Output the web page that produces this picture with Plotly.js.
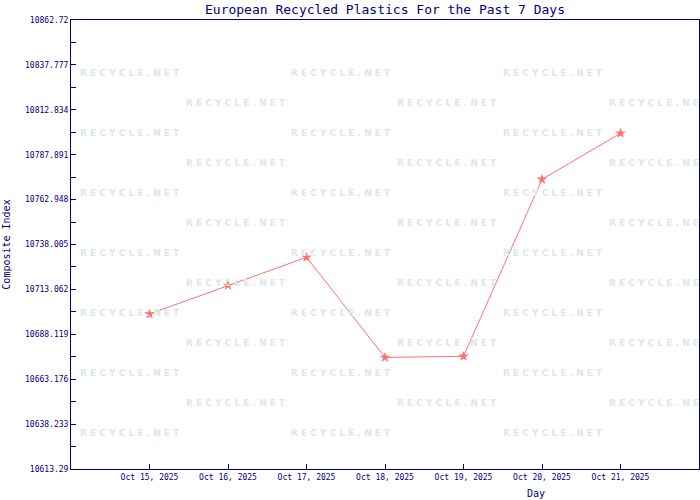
<!DOCTYPE html>
<html><head><meta charset="utf-8">
<script src="https://cdn.plot.ly/plotly-3.0.1.min.js"></script>
<style>html,body{margin:0;padding:0;background:#fff}</style>
</head><body>
<div id="chart" style="width:700px;height:500px"></div>
<script>
const days = ['2025-10-15','2025-10-16','2025-10-17','2025-10-18','2025-10-19','2025-10-20','2025-10-21'];
const values = [10699.4, 10715.3, 10730.9, 10675.3, 10675.9, 10774.2, 10799.8];
const yTickVals = [10613.29, 10638.233, 10663.176, 10688.119, 10713.062, 10738.005, 10762.948, 10787.891, 10812.834, 10837.777, 10862.72];
const yTickText = ['10613.29','10638.233','10663.176','10688.119','10713.062','10738.005','10762.948','10787.891','10812.834','10837.777','10862.72'];
const xRange = ['2025-10-14','2025-10-22'];

const navy = '#000080';
const mono = 'DejaVu Sans Mono, monospace';

// watermark annotations (decoration)
const W = 700, H = 500, L = 71, R = 1, T = 20, B = 31;
const pw = W - L - R, ph = H - T - B;
const annotations = [];
const wm = 'RECYCLE.NET'.split('').join(' ');
for (let r = 0; r < 13; r++) {
  const py = 73 + r * 30;
  const cols = (r % 2 === 0) ? [130, 341, 553] : [236, 447, 659];
  cols.forEach(px => {
    annotations.push({
      text: '<b>' + wm + '</b>', xref: 'paper', yref: 'paper',
      x: (px - L) / pw, y: 1 - (py - T) / ph, xanchor: 'center', yanchor: 'middle',
      showarrow: false, font: {family: 'DejaVu Sans, sans-serif', size: 9, color: '#dbe8e8'}
    });
  });
}
annotations.push({
  text: 'Day', xref: 'paper', yref: 'paper', x: (536 - L) / pw, y: 1 - (494 - T) / ph,
  xanchor: 'center', yanchor: 'middle', showarrow: false,
  font: {family: mono, size: 10, color: navy}
});

const trace = {
  x: days, y: values, type: 'scatter', mode: 'lines+markers',
  line: {color: '#ff7070', width: 1},
  marker: {symbol: 'star', size: 8, color: '#ff7070'},
  cliponaxis: false
};

const layout = {
  width: W, height: H,
  margin: {l: L, r: R, t: T, b: B, pad: 0},
  paper_bgcolor: '#ffffff', plot_bgcolor: '#ffffff',
  showlegend: false,
  title: {text: 'European Recycled Plastics For the Past 7 Days',
    font: {family: mono, size: 13, color: navy},
    x: 0.5, xref: 'paper', y: 1 - 9 / H, yref: 'container', yanchor: 'middle'},
  xaxis: {
    type: 'date', range: xRange, tickvals: days, tickformat: '%b %d, %Y',
    showgrid: false, zeroline: false, showline: true, linecolor: navy, linewidth: 1, mirror: true,
    ticks: 'inside', ticklen: 5, tickcolor: navy,
    tickfont: {family: mono, size: 8, color: navy}, fixedrange: true
  },
  yaxis: {
    range: [yTickVals[0], yTickVals[yTickVals.length - 1]],
    tickvals: yTickVals, ticktext: yTickText,
    showgrid: false, zeroline: false, showline: true, linecolor: navy, linewidth: 1, mirror: true,
    ticks: 'inside', ticklen: 5, tickcolor: navy,
    minor: {ticks: 'inside', ticklen: 5, tickcolor: navy, dtick: (yTickVals[1] - yTickVals[0]) / 2, tick0: yTickVals[0], showgrid: false},
    tickfont: {family: mono, size: 8, color: navy},
    title: {text: 'Composite Index', font: {family: mono, size: 10, color: navy}, standoff: 12}
  },
  annotations: annotations
};

Plotly.newPlot('chart', [trace], layout, {staticPlot: true, displayModeBar: false});
</script>
</body></html>
